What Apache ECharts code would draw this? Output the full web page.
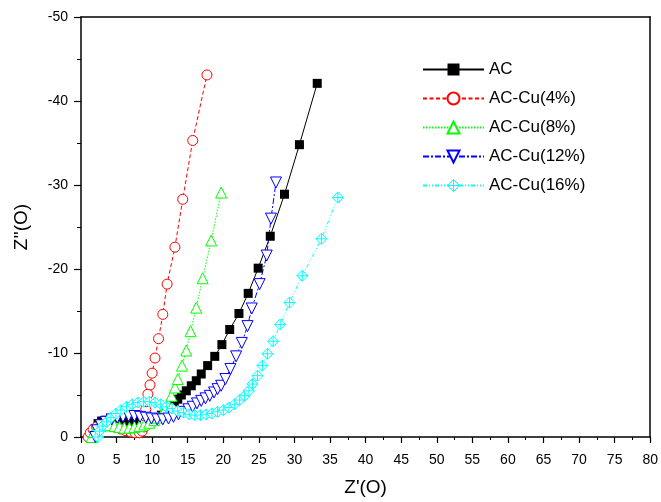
<!DOCTYPE html>
<html>
<head>
<meta charset="utf-8">
<script src="https://cdn.jsdelivr.net/npm/echarts@6/dist/echarts.min.js"></script>
<style>
  html, body { margin: 0; padding: 0; background: #fff; }
  #chart { width: 661px; height: 502px; }
</style>
</head>
<body>
<div id="chart"></div>
<script>
// Nyquist plot: Z' (real part) vs Z'' (imaginary part), ohm
const seriesNames = ['AC', 'AC-Cu(4%)', 'AC-Cu(8%)', 'AC-Cu(12%)', 'AC-Cu(16%)'];

const acRe = [1.7,2.0,2.4,2.9,3.5,4.2,5.0,5.8,6.6,7.4,8.2,9.0,9.8,10.6,11.3,12.0,12.6,13.1,13.6,14.1,14.8,15.5,16.2,16.9,17.8,18.8,19.8,20.9,22.2,23.5,24.9,26.6,28.6,30.7,33.2];
const acIm = [0,-1.0,-1.6,-1.9,-2.0,-2.0,-1.9,-1.8,-1.8,-1.8,-1.9,-2.0,-2.1,-2.3,-2.6,-3.0,-3.5,-4.0,-4.5,-5.0,-5.5,-6.1,-6.7,-7.5,-8.5,-9.6,-11.0,-12.8,-14.7,-17.1,-20.1,-23.9,-28.9,-34.8,-42.1];

const cu4Re = [1.0,1.3,1.7,2.2,2.8,3.5,4.2,4.9,5.6,6.3,7.0,7.6,8.2,8.6,8.9,9.0,9.0,9.1,9.2,9.4,9.7,10.0,10.4,10.9,11.5,12.1,13.2,14.3,15.7,17.7];
const cu4Im = [0,-0.5,-0.9,-1.2,-1.35,-1.4,-1.3,-1.15,-0.95,-0.75,-0.6,-0.5,-0.5,-0.7,-1.2,-1.8,-2.5,-3.3,-4.2,-5.1,-6.2,-7.6,-9.4,-11.7,-14.6,-18.2,-22.6,-28.3,-35.3,-43.1];

const cu8Re = [1.5,1.8,2.2,2.7,3.3,4.0,4.7,5.4,6.1,6.8,7.5,8.2,8.9,9.6,10.3,10.8,11.3,11.8,12.2,12.7,13.2,13.6,14.2,14.8,15.4,16.2,17.1,18.3,19.7];
const cu8Im = [0,-0.6,-1.0,-1.3,-1.4,-1.4,-1.3,-1.2,-1.1,-1.1,-1.2,-1.3,-1.5,-1.7,-2.0,-2.3,-2.6,-3.2,-4.0,-4.9,-5.9,-6.9,-8.5,-10.3,-12.6,-15.4,-18.9,-23.4,-29.1];

const cu12Re = [2.0,2.3,2.8,3.5,4.3,5.1,5.9,6.7,7.5,8.3,9.1,9.9,10.7,11.5,12.3,13.0,13.7,14.4,15.1,15.7,16.3,16.9,17.5,18.1,18.7,19.2,19.7,20.3,21.0,21.8,22.6,23.4,24.0,25.1,26.1,26.7,27.4];
const cu12Im = [0,-0.8,-1.4,-1.8,-2.1,-2.3,-2.4,-2.5,-2.5,-2.4,-2.3,-2.2,-2.1,-2.1,-2.2,-2.4,-2.7,-3.0,-3.3,-3.6,-4.0,-4.3,-4.6,-4.9,-5.3,-5.7,-6.1,-6.9,-8.1,-9.6,-11.2,-13.2,-15.3,-18.2,-21.6,-26.0,-30.3];

const cu16Re = [2.4,2.6,3.0,3.6,4.2,4.9,5.6,6.4,7.2,8.0,8.8,9.6,10.4,11.2,12.0,12.8,13.6,14.4,15.2,16.0,16.8,17.6,18.4,19.2,20.0,20.8,21.6,22.3,23.0,23.6,24.1,24.8,25.5,26.2,27.0,28.0,29.3,31.1,33.8,36.1];
const cu16Im = [0,-0.7,-1.3,-1.8,-2.3,-2.8,-3.2,-3.6,-3.9,-4.1,-4.2,-4.2,-4.1,-3.9,-3.6,-3.4,-3.1,-2.9,-2.7,-2.6,-2.6,-2.7,-2.8,-3.0,-3.2,-3.5,-3.9,-4.4,-4.9,-5.5,-6.3,-7.3,-8.5,-9.9,-11.4,-13.4,-16.0,-19.2,-23.6,-28.5];

const zip = (xs, ys) => xs.map((x, i) => [x, ys[i]]);

const FONT = 'Liberation Sans, Arial, Helvetica, sans-serif';
const crossDiamond = 'path://M0,-10L10,0L0,10L-10,0Z M0,-10L0,10 M-10,0L10,0';

function makeSeries(name, xs, ys, color, symbol, size, dash, opts) {
  return Object.assign({
    name: name,
    type: 'line',
    data: zip(xs, ys),
    symbol: symbol,
    symbolSize: size,
    showAllSymbol: true,
    lineStyle: { color: color, width: 1, type: dash },
    itemStyle: { color: '#ffffff', borderColor: color, borderWidth: 1 },
    emphasis: { disabled: true },
    z: 2
  }, opts || {});
}

const series = [
  makeSeries(seriesNames[0], acRe, acIm, '#000000', 'rect', 9, 'solid',
    { itemStyle: { color: '#000000', borderColor: '#000000', borderWidth: 0 } }),
  makeSeries(seriesNames[1], cu4Re, cu4Im, '#ff0000', 'circle', 10, [4, 2.5]),
  makeSeries(seriesNames[2], cu8Re, cu8Im, '#00ff00', 'triangle', 11, [1.5, 1.5]),
  makeSeries(seriesNames[3], cu12Re, cu12Im, '#0000ff', 'triangle', 11, [6, 2, 2, 2], { symbolRotate: 180 }),
  makeSeries(seriesNames[4], cu16Re, cu16Im, '#00ffff', crossDiamond, 11, [4, 2, 1, 2, 1, 2])
];

const legendItems = seriesNames.map((n, i) => i === 4
  ? { name: n, itemStyle: { color: '#ffffff', borderColor: '#00ffff', borderWidth: 1 } }
  : { name: n });

const chart = echarts.init(document.getElementById('chart'), null, { renderer: 'canvas' });
chart.setOption({
  animation: false,
  backgroundColor: '#ffffff',
  grid: { left: 81, right: 9, top: 17, bottom: 59, containLabel: false },
  legend: {
    orient: 'vertical',
    left: 422,
    top: 61,
    padding: 0,
    itemWidth: 61,
    itemHeight: 15,
    itemGap: 12,
    data: legendItems,
    textStyle: { fontFamily: FONT, fontSize: 17, color: '#000' },
    selectedMode: false
  },
  xAxis: [{
    type: 'value',
    min: 0, max: 80, interval: 5,
    name: "Z'(O)",
    nameLocation: 'middle',
    nameGap: 41,
    nameTextStyle: { fontFamily: FONT, fontSize: 19, color: '#000' },
    axisLine: { onZero: false, lineStyle: { color: '#000', width: 1.5 } },
    axisTick: { show: true, inside: false, length: 6, lineStyle: { color: '#000', width: 1.2 } },
    minorTick: { show: true, splitNumber: 2, length: 3, lineStyle: { color: '#000', width: 1 } },
    axisLabel: { fontFamily: FONT, fontSize: 14, color: '#000', margin: 16 },
    splitLine: { show: false }
  }, {
    type: 'value', position: 'top', min: 0, max: 80, interval: 5,
    axisLine: { onZero: false, lineStyle: { color: '#000', width: 1.5 } },
    axisTick: { show: false }, axisLabel: { show: false }, splitLine: { show: false }
  }],
  yAxis: [{
    type: 'value',
    inverse: true,
    min: -50, max: 0, interval: 10,
    name: "Z''(O)",
    nameLocation: 'middle',
    nameGap: 50,
    nameTextStyle: { fontFamily: FONT, fontSize: 19, color: '#000' },
    axisLine: { onZero: false, lineStyle: { color: '#000', width: 1.5 } },
    axisTick: { show: true, inside: false, length: 7, lineStyle: { color: '#000', width: 1.2 } },
    minorTick: { show: true, splitNumber: 2, length: 4, lineStyle: { color: '#000', width: 1 } },
    axisLabel: { fontFamily: FONT, fontSize: 14, color: '#000', margin: 13 },
    splitLine: { show: false }
  }, {
    type: 'value', position: 'right', inverse: true, min: -50, max: 0, interval: 10,
    axisLine: { onZero: false, lineStyle: { color: '#000', width: 1.5 } },
    axisTick: { show: false }, axisLabel: { show: false }, splitLine: { show: false }
  }],
  series: series
});
</script>
</body>
</html>
